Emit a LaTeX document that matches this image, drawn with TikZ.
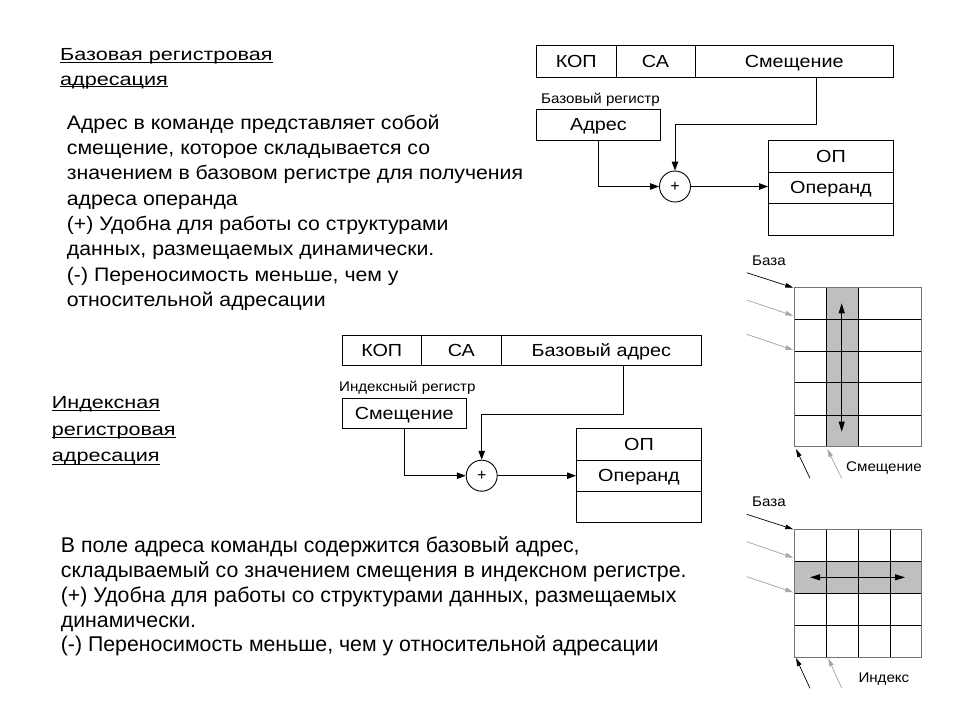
\documentclass[tikz,border=0pt]{standalone}
\usepackage{fontspec}
\setmainfont{Liberation Sans}
\newfontfamily\ftitle[FakeStretch=1.235]{Liberation Sans}
\newfontfamily\ftexta[FakeStretch=1.09]{Liberation Sans}
\newfontfamily\fcell[FakeStretch=1.13]{Liberation Sans}
\newfontfamily\fsmall[FakeStretch=1.08]{Liberation Sans}
\usetikzlibrary{arrows.meta}
\newcommand\fsz[1]{\fontsize{#1}{#1}\selectfont}
\begin{document}
\begin{tikzpicture}[x=1pt,y=-1pt,
  cell/.style={draw, line width=0.9pt, inner sep=0pt, anchor=north west, font=\fcell\fsz{17.5}, text height=12.6pt, text depth=1pt},
  sumc/.style={draw, circle, line width=0.9pt, inner sep=0pt, minimum size=31pt, font=\fsz{16}},
  arr/.style={line width=0.9pt, -{Triangle[length=9pt,width=6.5pt]}},
  txt/.style={inner sep=0pt, anchor=base west, font=\ftexta\fsz{19.5}},
  txtb/.style={inner sep=0pt, anchor=base west, font=\fsz{21.3}},
  ttl/.style={inner sep=0pt, anchor=base west, font=\ftitle\fsz{17.5}},
  small/.style={inner sep=0pt, anchor=base west, font=\fsmall\fsz{14}},
  glbl/.style={inner sep=0pt, anchor=base west, font=\fsmall\fsz{14}},
  ptr/.style={line width=0.7pt, -{Triangle[length=8pt,width=4.5pt]}},
  ptrb/.style={ptr, black},
  ptrg/.style={ptr, draw=black!35, fill=black!35},
  inner/.style={line width=0.9pt, black},
  outer/.style={line width=0.9pt, black!55},
  shade/.style={fill=black!25},
  dbl/.style={line width=0.9pt, {Triangle[length=10pt,width=6pt]}-{Triangle[length=10pt,width=6pt]}}
]
\useasboundingbox (0,0) rectangle (960,720);

% ---------- titles and texts ----------
\node[ttl] (ti1) at (60,60.7) {Базовая регистровая};
\node[ttl] (ti2) at (60,85) {адресация};
\draw[line width=0.8pt] ([yshift=-1.8pt]ti1.base west) -- ([yshift=-1.8pt]ti1.base east);
\draw[line width=0.8pt] ([yshift=-1.8pt]ti2.base west) -- ([yshift=-1.8pt]ti2.base east);

\node[txt] (a1) at (66.7,129.3) {Адрес в команде представляет собой};
\node[txt] (a2) at (66.7,154.6) {смещение, которое складывается со};
\node[txt] (a3) at (66.7,179.9) {значением в базовом регистре для получения};
\node[txt] (a4) at (66.7,205.2) {адреса операнда};
\node[txt] (a5) at (66.7,230.5) {(+) Удобна для работы со структурами};
\node[txt] (a6) at (66.7,255.8) {данных, размещаемых динамически.};
\node[txt] (a7) at (66.7,281.1) {(-) Переносимость меньше, чем у};
\node[txt] (a8) at (66.7,306.4) {относительной адресации};

\node[ttl] (tj1) at (51.7,408.3) {Индексная};
\node[ttl] (tj2) at (51.7,435) {регистровая};
\node[ttl] (tj3) at (51.7,461.7) {адресация};
\draw[line width=0.8pt] ([yshift=-2.4pt]tj1.base west) -- ([yshift=-2.4pt]tj1.base east);
\draw[line width=0.8pt] ([yshift=-2.4pt]tj2.base west) -- ([yshift=-2.4pt]tj2.base east);
\draw[line width=0.8pt] ([yshift=-2.4pt]tj3.base west) -- ([yshift=-2.4pt]tj3.base east);

\node[txtb] (b1) at (60.7,552.7) {В поле адреса команды содержится базовый адрес,};
\node[txtb] (b2) at (60.7,577.5) {складываемый со значением смещения в индексном регистре.};
\node[txtb] (b3) at (60.7,602.3) {(+) Удобна для работы со структурами данных, размещаемых};
\node[txtb] (b4) at (60.7,627.1) {динамически.};
\node[txtb] (b5) at (60.7,651.9) {(-) Переносимость меньше, чем у относительной адресации};

% ---------- top diagram ----------
\node[cell, minimum width=79.5pt, minimum height=32pt] (kop1) at (536,45) {КОП};
\node[cell, minimum width=79pt, minimum height=32pt] (ca1) at (615.5,45) {СА};
\node[cell, minimum width=198.5pt, minimum height=32pt] (sm1) at (694.5,45) {Смещение};
\node[small] (lb1) at (541,103) {Базовый регистр};
\node[cell, minimum width=124pt, minimum height=31pt] (adr1) at (536,109) {Адрес};
\node[sumc] (sum1) at (675,186.5) {+};
\node[cell, minimum width=125pt, minimum height=32pt] (op1) at (768,140) {ОП};
\node[cell, minimum width=125pt, minimum height=31pt] (opnd1) at (768,172) {Операнд};
\node[cell, minimum width=125pt, minimum height=32pt] (ope1) at (768,203) {};
\draw[arr] ([xshift=22.7pt]sm1.south) -- ++(0,47) -| (sum1.north);
\draw[arr] (adr1.south) |- (sum1.west);
\draw[arr] (sum1.east) -- (sum1.east -| opnd1.west);

% ---------- middle diagram ----------
\node[cell, minimum width=79.5pt, minimum height=30.5pt] (kop2) at (341.5,334.5) {КОП};
\node[cell, minimum width=79.7pt, minimum height=30.5pt] (ca2) at (421,334.5) {СА};
\node[cell, minimum width=200.3pt, minimum height=30.5pt] (ba2) at (500.7,334.5) {Базовый адрес};
\node[small] (lb2) at (339,391.5) {Индексный регистр};
\node[cell, minimum width=124.5pt, minimum height=29.7pt] (sm2) at (341.5,398) {Смещение};
\node[sumc] (sum2) at (481.7,475.7) {+};
\node[cell, minimum width=125pt, minimum height=31.7pt] (op2) at (576,428.3) {ОП};
\node[cell, minimum width=125pt, minimum height=31pt] (opnd2) at (576,460) {Операнд};
\node[cell, minimum width=125pt, minimum height=30.7pt] (ope2) at (576,491) {};
\draw[arr] ([xshift=21.9pt]ba2.south) -- ++(0,48.3) -| (sum2.north);
\draw[arr] (sm2.south) |- (sum2.west);
\draw[arr] (sum2.east) -- (sum2.east -| opnd2.west);

% ---------- grid 1 (base + offset) ----------
\fill[shade] (826.7,287.7) rectangle (858.3,446.7);
\foreach \yy in {319.3,351,382.7,415} \draw[inner] (794.3,\yy) -- (921.7,\yy);
\foreach \xx in {826.7,858.3} \draw[inner] (\xx,287.7) -- (\xx,446.7);
\draw[outer] (794.3,287.7) rectangle (921.7,446.7);
\coordinate (g1u) at (841.7,303.3);
\coordinate (g1d) at (841.7,431.7);
\draw[dbl] (g1u) -- (g1d);
\node[glbl] (gb1) at (752,265) {База};
\coordinate (p1s) at (746.7,272.7); \coordinate (p1e) at (793.3,287.7);
\coordinate (p2s) at (746.7,300);   \coordinate (p2e) at (793.3,315.7);
\coordinate (p3s) at (746.7,334.3); \coordinate (p3e) at (793.3,350);
\coordinate (p4s) at (810,478.3);   \coordinate (p4e) at (796,449);
\coordinate (p5s) at (841.7,478.3); \coordinate (p5e) at (827.3,449);
\draw[ptrb] (p1s) -- (p1e);
\draw[ptrg] (p2s) -- (p2e);
\draw[ptrg] (p3s) -- (p3e);
\draw[ptrb] (p4s) -- (p4e);
\draw[ptrg] (p5s) -- (p5e);
\node[glbl] (gs1) at (846,471.5) {Смещение};

% ---------- grid 2 (base + index) ----------
\fill[shade] (794.3,561.7) rectangle (921.7,593.3);
\foreach \yy in {561.7,593.3,625} \draw[inner] (794.3,\yy) -- (921.7,\yy);
\foreach \xx in {826.7,858.3,890} \draw[inner] (\xx,529.3) -- (\xx,657.3);
\draw[outer] (794.3,529.3) rectangle (921.7,657.3);
\coordinate (g2l) at (810,577.3);
\coordinate (g2r) at (905,577.3);
\draw[dbl] (g2l) -- (g2r);
\node[glbl] (gb2) at (752,506.5) {База};
\coordinate (q1s) at (746.7,514.3); \coordinate (q1e) at (793.3,529.3);
\coordinate (q2s) at (746.7,541.7); \coordinate (q2e) at (793.3,557.7);
\coordinate (q3s) at (746.7,576.7); \coordinate (q3e) at (793.3,592.3);
\coordinate (q4s) at (810,688.3);   \coordinate (q4e) at (796,658);
\coordinate (q5s) at (841.7,688.3); \coordinate (q5e) at (828.3,658.3);
\draw[ptrb] (q1s) -- (q1e);
\draw[ptrg] (q2s) -- (q2e);
\draw[ptrg] (q3s) -- (q3e);
\draw[ptrb] (q4s) -- (q4e);
\draw[ptrg] (q5s) -- (q5e);
\node[glbl] (gi2) at (858.3,682.5) {Индекс};
\end{tikzpicture}
\end{document}
